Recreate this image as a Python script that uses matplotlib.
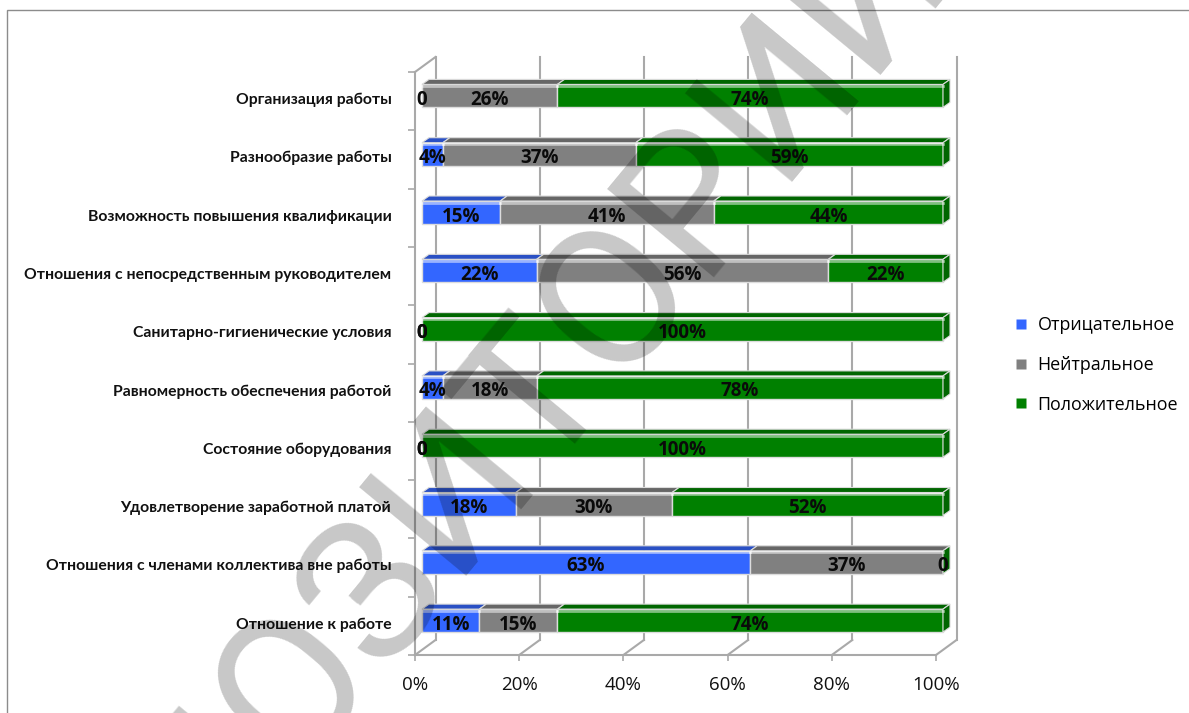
import matplotlib
matplotlib.use("Agg")
import matplotlib.pyplot as plt
from matplotlib.lines import Line2D
from matplotlib.patches import Polygon, Rectangle

categories = ["Отношение к работе", "Отношения с членами коллектива вне работы",
              "Удовлетворение заработной платой", "Состояние оборудования",
              "Равномерность обеспечения работой", "Санитарно-гигиенические условия",
              "Отношения с непосредственным руководителем",
              "Возможность повышения квалификации", "Разнообразие работы",
              "Организация работы"]
negative = [11, 63, 18, 0, 4, 0, 22, 15, 4, 0]
neutral = [15, 37, 30, 0, 18, 0, 56, 41, 37, 26]
positive = [74, 0, 52, 100, 78, 100, 22, 44, 59, 74]
series_names = ["Отрицательное", "Нейтральное", "Положительное"]
x_ticks = [0, 20, 40, 60, 80, 100]
watermark = "РЕПОЗИТОРИЙ"

W, H = 1189, 713
fig = plt.figure(figsize=(W / 100, H / 100), dpi=100)
L, R, T, B = 415, 936, 72, 655
ax = fig.add_axes([L / W, 1 - B / H, (R - L) / W, (B - T) / H])
ax.set_xlim(0, 100)
ax.set_ylim(0, 10)
ux = (R - L) / 100
uy = (B - T) / 10
GRID = "#a9a9a9"
FONT = ["Lato", "Open Sans", "DejaVu Sans"]
FONT2 = ["Open Sans", "DejaVu Sans"]

fig.add_artist(Rectangle((7 / W, -0.1), 1.2, 1 - 10 / H + 0.1, transform=fig.transFigure,
                         fill=False, ec="#8c8c8c", lw=1))

wx, wy = 20.5 / ux, 15 / uy
for v in x_ticks:
    ax.plot([v + wx, v + wx], [wy, 10 + wy], color=GRID, lw=1.5, clip_on=False, zorder=1)
    ax.plot([v, v + wx], [0, wy], color=GRID, lw=1.5, clip_on=False, zorder=1)
ax.plot([0, wx], [10, 10 + wy], color=GRID, lw=1.5, clip_on=False, zorder=1)

face = ["#3366FF", "#808080", "#008000"]
dark = ["#2A50C4", "#666666", "#006600"]
bx, by = 7 / ux, 5 / uy
h = 23 / uy
off_y = 0.09
for i in range(len(categories)):
    c = i + 0.5 + off_y
    left = 0
    vals = (negative[i], neutral[i], positive[i])
    for k, v in enumerate(vals):
        x0 = left + bx
        x1 = x0 + v
        y1 = c + h / 2
        if v > 0:
            ax.barh(c, v, h, left=x0, color=face[k], edgecolor="#dcdcdc", lw=1,
                    clip_on=False, zorder=3)
            ax.add_patch(Polygon([(x0, y1), (x1, y1), (x1 + bx, y1 + by), (x0 + bx, y1 + by)],
                                 fc=dark[k], ec="#dcdcdc", lw=0.8, clip_on=False, zorder=3))
            ax.plot([x0, x1], [y1 - 1.5 / uy] * 2, color="white", alpha=0.5, lw=2,
                    clip_on=False, zorder=4)
        left += v
    end = 100 + bx
    ax.add_patch(Polygon([(end, c - h / 2), (end + bx, c - h / 2 + by), (end + bx, c + h / 2 + by),
                          (end, c + h / 2)], fc=dark[2], ec="#dcdcdc", lw=0.8,
                         clip_on=False, zorder=3))
    left = 0
    for v in vals:
        lab = f"{v}%" if v else "0"
        ax.text(left + bx + v / 2, c - 4 / uy, lab, ha="center", va="center",
                fontsize=13.5, fontweight="bold", family=FONT2, color="#0a0a0a",
                clip_on=False, zorder=6)
        left += v

for s in ("top", "right"):
    ax.spines[s].set_visible(False)
for s in ("left", "bottom"):
    ax.spines[s].set_color(GRID)
    ax.spines[s].set_linewidth(1.5)
ax.patch.set_alpha(0)
ax.set_xticks(x_ticks)
ax.set_xticklabels([f"{v}%" for v in x_ticks], fontsize=13.5, family=FONT2, color="#111111")
ax.tick_params(axis="x", length=4, width=1.2, color=GRID, pad=11)
ax.set_yticks(range(11))
ax.set_yticklabels([])
ax.tick_params(axis="y", which="major", length=5, width=1.2, color=GRID)
ax.set_yticks([i + 0.5 + off_y - 2.5 / uy for i in range(10)], minor=True)
ax.set_yticklabels(categories, minor=True, fontsize=11.3, fontweight="bold", family=FONT, color="#111111")
ax.tick_params(axis="y", which="minor", length=0, pad=17)

handles = [Line2D([], [], ls="", marker="s", ms=6.5, mfc=c, mec="none") for c in face]
fig.legend(handles, series_names, loc="center left", bbox_to_anchor=(1015 / W, 1 - 365 / H),
           frameon=False, handlelength=0.7, handletextpad=0.55, numpoints=1,
           labelspacing=1.2, borderpad=0, borderaxespad=0,
           prop={"family": FONT2, "size": 12.9})

fig.text(54 / W, 1 - 1055 / H, watermark, rotation=50.4, ha="left", va="baseline",
         rotation_mode="anchor", fontsize=140, family="Roboto", fontweight="normal",
         color="black", alpha=0.22, zorder=20)

fig.savefig("out.png", dpi=100)
